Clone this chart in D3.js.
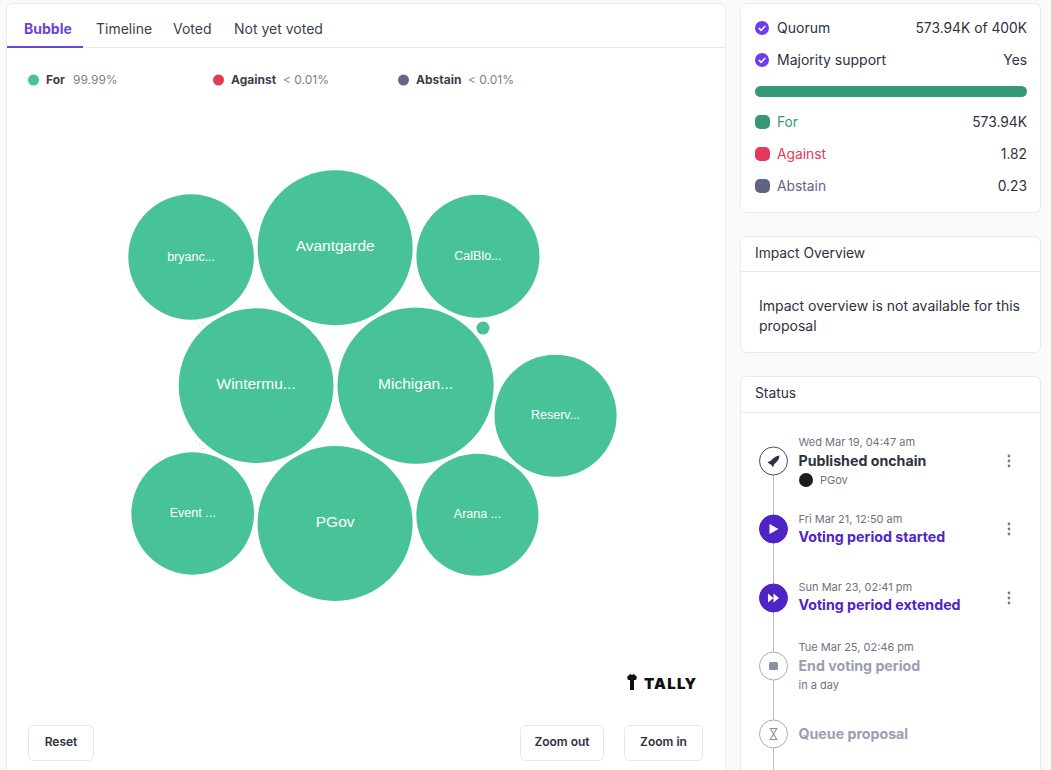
<!DOCTYPE html>
<html>
<head>
<meta charset="utf-8">
<script src="https://d3js.org/d3.v7.min.js"></script>
<style>
  html, body { margin: 0; padding: 0; background: #fafafb; overflow: hidden; }
  svg { display: block; font-family: Inter, "Noto Sans", sans-serif; }
</style>
</head>
<body>
<div id="chart"></div>
<script>
// bubble data, in packing order
const voters = ["Wintermu...", "Michigan...", "PGov", "Avantgarde", "Arana ...", "CalBlo...", "Event ...", "bryanc...", "Reserv...", "", "", "", "", "", "", "", "", ""];
const voterVotes = [80000, 81500, 80300, 80300, 49800, 50600, 50200, 52700, 49800, 566, 6, 4, 3, 2, 1.82, 1, 0.5, 0.23];
const voterChoice = ["For", "For", "For", "For", "For", "For", "For", "For", "For", "For", "For", "For", "For", "For", "Against", "For", "For", "Abstain"];

const choices = ["For", "Against", "Abstain"];
const choiceShare = ["99.99%", "< 0.01%", "< 0.01%"];
const choiceVotes = [573940, 1.82, 0.23];
const choiceLabels = ["573.94K", "1.82", "0.23"];

const tabs = ["Bubble", "Timeline", "Voted", "Not yet voted"];

const statusDates = ["Wed Mar 19, 04:47 am", "Fri Mar 21, 12:50 am", "Sun Mar 23, 02:41 pm", "Tue Mar 25, 02:46 pm", ""];
const statusTitles = ["Published onchain", "Voting period started", "Voting period extended", "End voting period", "Queue proposal"];
const statusState = ["done", "active", "active", "pending", "pending"];

const bubbleColor = d3.scaleOrdinal().domain(choices).range(["#47c397", "#e5385a", "#636a85"]);
const panelColor = d3.scaleOrdinal().domain(choices).range(["#359877", "#e5385a", "#5f6480"]);

const ink = "#2f3140", grey = "#6f7280";

const svg = d3.select("#chart").append("svg")
    .attr("width", 1051)
    .attr("height", 770);

function card(x, y, w, h) {
    svg.append("rect")
        .attr("x", x).attr("y", y).attr("width", w).attr("height", h)
        .attr("rx", 6)
        .attr("fill", "#fff")
        .attr("stroke", "#e9eaee");
}

function label(text, x, y, size, color, weight, anchor) {
    return svg.append("text")
        .attr("x", x).attr("y", y)
        .attr("dy", "0.35em")
        .attr("font-size", size)
        .attr("fill", color)
        .attr("font-weight", weight || 400)
        .attr("text-anchor", anchor || "start")
        .text(text);
}

// left card
card(6.5, 3.5, 719, 800);
svg.append("line").attr("x1", 7).attr("x2", 725).attr("y1", 47.5).attr("y2", 47.5).attr("stroke", "#e9eaee");
svg.append("rect").attr("x", 7).attr("y", 46).attr("width", 76).attr("height", 2).attr("fill", "#6b45d6");

const tabX = [24, 96, 173, 234];
tabs.forEach((t, i) => {
    label(t, tabX[i], 29, 14, i === 0 ? "#6b45d6" : "#3d3f4c", i === 0 ? 700 : 400);
});

// legend
const legendX = [33.5, 218.5, 403.5];
const legendShareX = [73, 283, 468];
choices.forEach((c, i) => {
    svg.append("circle").attr("cx", legendX[i]).attr("cy", 80).attr("r", 5.5).attr("fill", bubbleColor(c));
    label(c, legendX[i] + 12.5, 80, 12, "#3d3f4c", 700);
    label(choiceShare[i], legendShareX[i], 80, 12, "#7b7e8b");
});

// bubbles
const r = d3.scaleSqrt().domain([0, d3.max(voterVotes)]).range([0, 78.1]);

const root = d3.hierarchy({
    children: voters.map((name, i) => ({ name, votes: voterVotes[i], choice: voterChoice[i] }))
}).sum(d => d.votes || 0);

d3.pack()
    .size([718, 770])
    .padding(4)
    .radius(d => r(d.value))(root);

const bubbles = svg.append("g")
    .attr("transform", "translate(-7,-2)")
    .selectAll("g")
    .data(root.leaves())
    .join("g")
    .attr("transform", d => `translate(${d.x},${d.y})`);

bubbles.append("circle")
    .attr("r", d => d.r)
    .attr("fill", d => bubbleColor(d.data.choice));

bubbles.append("text")
    .attr("text-anchor", "middle")
    .attr("dy", d => d.r > 70 ? "0.2em" : "0.3em")
    .attr("fill", "#fff")
    .style("font-family", "Liberation Sans, Arial, sans-serif")
    .attr("font-size", d => d.r > 70 ? 15.5 : 12.5)
    .text(d => d.data.name);

// tally mark
svg.append("path")
    .attr("d", "M627 677 l3 -3 l2 1 l2 -1 l3 3 l-1 3 h-2 v10 h-4 v-10 h-2 z")
    .attr("fill", "#111");
label("TALLY", 644, 684, 15, "#111", 900).style("letter-spacing", "1.2px");

// buttons
[["Reset", 28.5, 65], ["Zoom out", 520.5, 83], ["Zoom in", 624.5, 78]].forEach(b => {
    svg.append("rect")
        .attr("x", b[1]).attr("y", 725.5).attr("width", b[2]).attr("height", 35)
        .attr("rx", 5).attr("fill", "#fff").attr("stroke", "#e6e7ec");
    label(b[0], b[1] + b[2] / 2, 742, 12, ink, 600, "middle");
});

// results card
card(740.5, 3.5, 300, 209);

function check(cy) {
    svg.append("circle").attr("cx", 762).attr("cy", cy).attr("r", 7).attr("fill", "#6d3ef0");
    svg.append("path")
        .attr("d", `M758.8 ${cy} l2.3 2.4 l4.2 -4.4`)
        .attr("fill", "none").attr("stroke", "#fff").attr("stroke-width", 1.6);
}
check(28);
check(60);
label("Quorum", 777, 28, 14, ink);
label("573.94K of 400K", 1027, 28, 13.8, ink, 400, "end");
label("Majority support", 777, 60, 14, ink);
label("Yes", 1027, 60, 13.8, ink, 400, "end");

const barX = d3.scaleLinear().domain([0, d3.sum(choiceVotes)]).range([755, 1027]);
let barStart = 0;
choices.forEach((c, i) => {
    svg.append("rect")
        .attr("x", barX(barStart)).attr("y", 86)
        .attr("width", barX(barStart + choiceVotes[i]) - barX(barStart))
        .attr("height", 11).attr("rx", i === 0 ? 5.5 : 0)
        .attr("fill", panelColor(c));
    barStart += choiceVotes[i];
});

const rowY = d3.scalePoint().domain(choices).range([122, 186]);
choices.forEach((c, i) => {
    svg.append("rect")
        .attr("x", 755).attr("y", rowY(c) - 7)
        .attr("width", 15).attr("height", 14)
        .attr("rx", 5).attr("fill", panelColor(c));
    label(c, 777, rowY(c), 13.8, panelColor(c));
    label(choiceLabels[i], 1027, rowY(c), 13.8, ink, 400, "end");
});

// impact card
card(740.5, 236.5, 300, 116);
svg.append("line").attr("x1", 741).attr("x2", 1040).attr("y1", 271.5).attr("y2", 271.5).attr("stroke", "#e9eaee");
label("Impact Overview", 755, 253, 13.8, ink);
label("Impact overview is not available for this", 759, 306, 14, ink);
label("proposal", 759, 326, 14, ink);

// status card
card(740.5, 376.5, 300, 420);
svg.append("line").attr("x1", 741).attr("x2", 1040).attr("y1", 412.5).attr("y2", 412.5).attr("stroke", "#e9eaee");
label("Status", 755, 393, 13.8, ink);

const stepY = [461, 529, 598, 666, 734];
const titleY = [461, 537, 605, 666, 734];
const dateY = [442, 519, 587, 647, 0];
svg.append("line").attr("x1", 773.5).attr("x2", 773.5).attr("y1", 461).attr("y2", 770).attr("stroke", "#b9bcc6");

statusTitles.forEach((t, i) => {
    const state = statusState[i], y = stepY[i];
    const active = state === "active";
    svg.append("circle").attr("cx", 773.5).attr("cy", y).attr("r", 14)
        .attr("fill", active ? "#4f24c6" : "#fff")
        .attr("stroke", active ? "#4f24c6" : state === "done" ? "#4a4c5a" : "#a9acb9");
    if (statusDates[i]) label(statusDates[i], 798.5, dateY[i], 11, grey);
    label(t, 798.5, titleY[i], 14.2, active ? "#4f24c6" : state === "done" ? ink : "#9a9eb0", 700);
    if (state !== "pending") {
        [-5, 0, 5].forEach(o => {
            svg.append("circle").attr("cx", 1009).attr("cy", y + o).attr("r", 1.4).attr("fill", "#777a88");
        });
    }
});

// step icons
svg.append("path").attr("d", "M767.5 462 l3 -1 l3 -3 q3 -2.5 6 -2.5 q0 3 -2.5 6 l-3 3 l-1 3 l-1.5 -2.5 l-2.5 -1.5 z").attr("fill", "#2f3140");
svg.append("path").attr("d", "M769.5 524 l9 5 l-9 5 z").attr("fill", "#fff");
svg.append("path").attr("d", "M768 593.5 l5.5 4.5 l-5.5 4.5 z M773.5 593.5 l5.5 4.5 l-5.5 4.5 z").attr("fill", "#fff");
svg.append("rect").attr("x", 769).attr("y", 662).attr("width", 9).attr("height", 8).attr("rx", 1.5).attr("fill", "#8c90a6");
svg.append("path").attr("d", "M769.5 728.5 h8 M769.5 739.5 h8 M770.5 729 l6 10 M776.5 729 l-6 10").attr("stroke", "#8c90a6").attr("stroke-width", 1.2).attr("fill", "none");

svg.append("circle").attr("cx", 806).attr("cy", 480).attr("r", 7).attr("fill", "#1d1b1f");
label("PGov", 820, 480, 11, grey);
label("in a day", 798.5, 685, 11, grey);
</script>
</body>
</html>
